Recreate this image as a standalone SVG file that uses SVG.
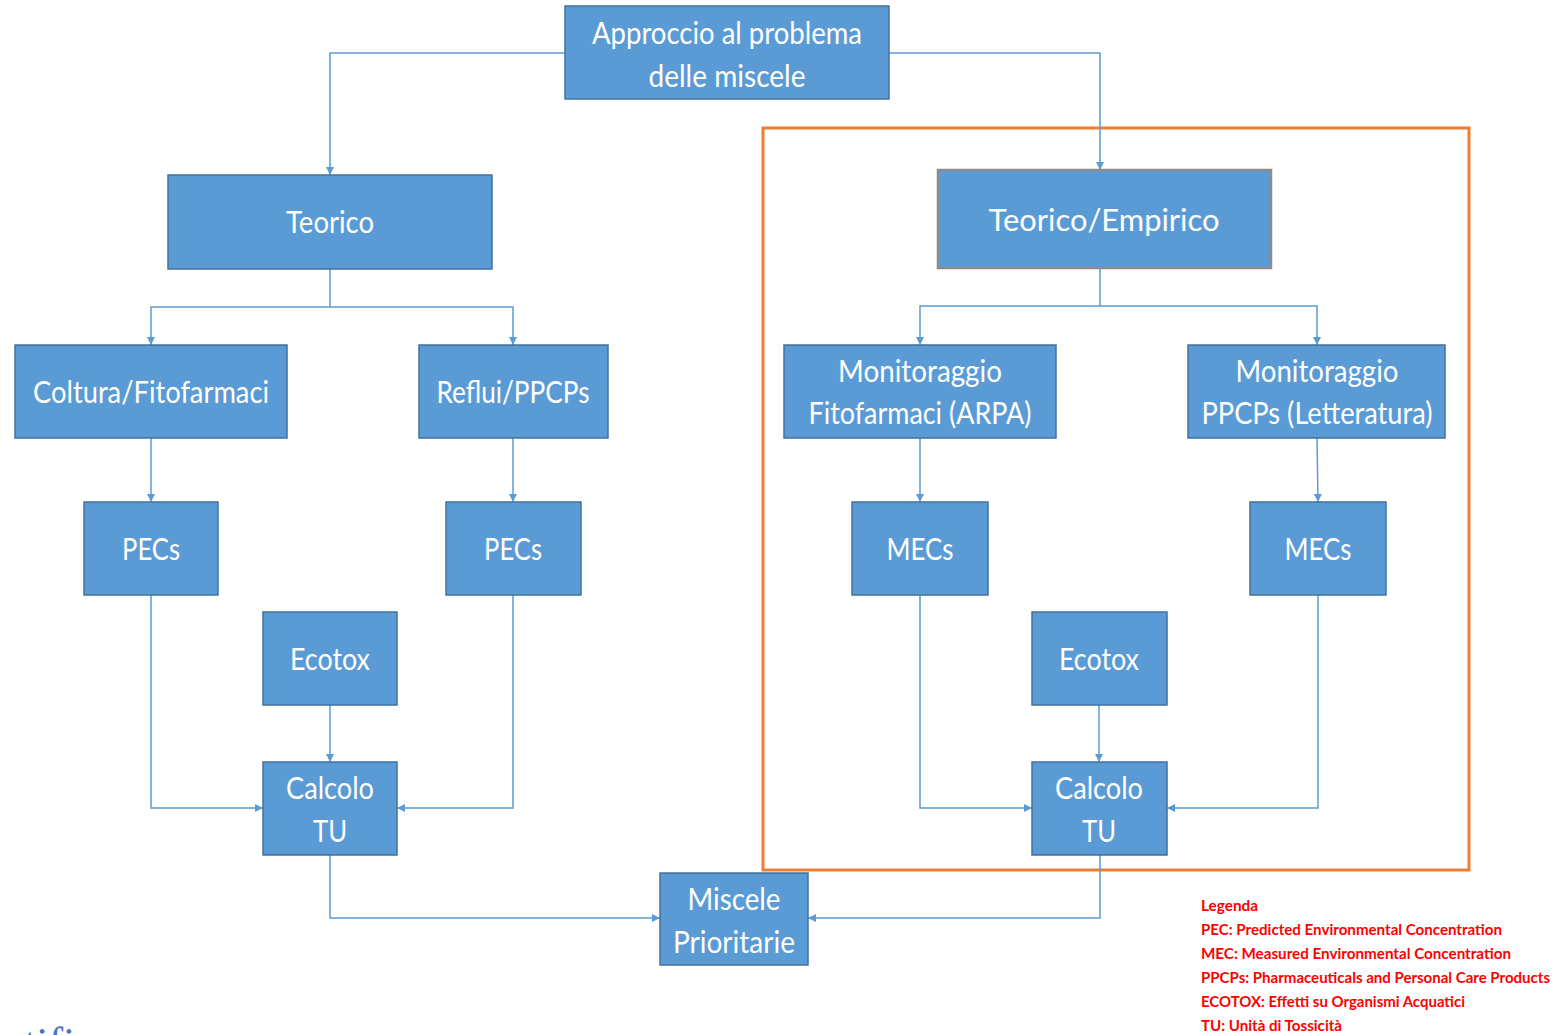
<svg xmlns="http://www.w3.org/2000/svg" width="1555" height="1035" viewBox="0 0 1555 1035">
<defs>
<marker id="ah" viewBox="0 0 10 10" refX="10" refY="5" markerWidth="8" markerHeight="8" markerUnits="userSpaceOnUse" orient="auto">
<path d="M0,0 L10,5 L0,10 z" fill="#5B9BD5"/>
</marker>
<style>
.box{fill:#5B9BD5;stroke:#41719C;stroke-width:1.5}
.t{font-family:Lato,"Liberation Sans",sans-serif;font-size:31px;fill:#fff;text-anchor:middle}
.c{fill:none;stroke:#5B9BD5;stroke-width:1.5;marker-end:url(#ah)}
.cn{fill:none;stroke:#5B9BD5;stroke-width:1.5}
.leg{font-family:Lato,"Liberation Sans",sans-serif;font-size:15px;font-weight:bold;fill:#FF0000}
</style>
</defs>
<rect width="1555" height="1035" fill="#fff"/>
<rect x="763" y="128" width="706" height="742" fill="none" stroke="#ED7D31" stroke-width="3"/>
<g id="connectors">
<path class="c" d="M565,53 H330 V175"/>
<path class="c" d="M889,53 H1100 V170"/>
<path class="cn" d="M330,269 V307"/>
<path class="c" d="M330,307 H151 V345"/>
<path class="c" d="M330,307 H513 V345"/>
<path class="cn" d="M1100,268 V306"/>
<path class="c" d="M1100,306 H920 V345"/>
<path class="c" d="M1100,306 H1317 V345"/>
<path class="c" d="M151,438 V502"/>
<path class="c" d="M513,438 V502"/>
<path class="c" d="M920,438 V502"/>
<path class="c" d="M1317,438 L1318,502"/>
<path class="c" d="M151,595 V808 H263"/>
<path class="c" d="M513,595 V808 H397"/>
<path class="c" d="M330,705 V762"/>
<path class="c" d="M920,595 V808 H1032"/>
<path class="c" d="M1318,595 V808 H1167"/>
<path class="c" d="M1099,705 V762"/>
<path class="c" d="M330,855 V918 H660"/>
<path class="c" d="M1100,855 V918 H808"/>
</g>
<g id="n-approccio"><rect class="box" x="565" y="6" width="324" height="93"/><text class="t" x="727" y="44" textLength="270" lengthAdjust="spacingAndGlyphs">Approccio al problema</text><text class="t" x="727" y="87" textLength="157" lengthAdjust="spacingAndGlyphs">delle miscele</text></g>
<g id="n-teorico"><rect class="box" x="168" y="175" width="324" height="94"/><text class="t" x="330" y="233" textLength="88" lengthAdjust="spacingAndGlyphs">Teorico</text></g>
<g id="n-empirico"><rect class="box" x="938" y="170" width="333" height="98" style="stroke:#8C8C8C;stroke-width:2.5"/><text class="t" x="1104" y="231" textLength="231" lengthAdjust="spacingAndGlyphs">Teorico/Empirico</text></g>
<g id="n-coltura"><rect class="box" x="15" y="345" width="272" height="93"/><text class="t" x="151" y="403" textLength="236" lengthAdjust="spacingAndGlyphs">Coltura/Fitofarmaci</text></g>
<g id="n-reflui"><rect class="box" x="419" y="345" width="189" height="93"/><text class="t" x="513" y="403" textLength="153" lengthAdjust="spacingAndGlyphs">Reflui/PPCPs</text></g>
<g id="n-mon-arpa"><rect class="box" x="784" y="345" width="272" height="93"/><text class="t" x="920" y="382" textLength="164" lengthAdjust="spacingAndGlyphs">Monitoraggio</text><text class="t" x="920" y="424" textLength="223" lengthAdjust="spacingAndGlyphs">Fitofarmaci (ARPA)</text></g>
<g id="n-mon-lett"><rect class="box" x="1188" y="345" width="257" height="93"/><text class="t" x="1317" y="382" textLength="163" lengthAdjust="spacingAndGlyphs">Monitoraggio</text><text class="t" x="1317" y="424" textLength="231" lengthAdjust="spacingAndGlyphs">PPCPs (Letteratura)</text></g>
<g id="n-pecs1"><rect class="box" x="84" y="502" width="134" height="93"/><text class="t" x="151" y="560" textLength="58" lengthAdjust="spacingAndGlyphs">PECs</text></g>
<g id="n-pecs2"><rect class="box" x="446" y="502" width="135" height="93"/><text class="t" x="513" y="560" textLength="58" lengthAdjust="spacingAndGlyphs">PECs</text></g>
<g id="n-mecs1"><rect class="box" x="852" y="502" width="136" height="93"/><text class="t" x="920" y="560" textLength="67" lengthAdjust="spacingAndGlyphs">MECs</text></g>
<g id="n-mecs2"><rect class="box" x="1250" y="502" width="136" height="93"/><text class="t" x="1318" y="560" textLength="67" lengthAdjust="spacingAndGlyphs">MECs</text></g>
<g id="n-ecotox1"><rect class="box" x="263" y="612" width="134" height="93"/><text class="t" x="330" y="670" textLength="80" lengthAdjust="spacingAndGlyphs">Ecotox</text></g>
<g id="n-ecotox2"><rect class="box" x="1032" y="612" width="135" height="93"/><text class="t" x="1099" y="670" textLength="80" lengthAdjust="spacingAndGlyphs">Ecotox</text></g>
<g id="n-tu1"><rect class="box" x="263" y="762" width="134" height="93"/><text class="t" x="330" y="799" textLength="88" lengthAdjust="spacingAndGlyphs">Calcolo</text><text class="t" x="330" y="842" textLength="34" lengthAdjust="spacingAndGlyphs">TU</text></g>
<g id="n-tu2"><rect class="box" x="1032" y="762" width="135" height="93"/><text class="t" x="1099" y="799" textLength="88" lengthAdjust="spacingAndGlyphs">Calcolo</text><text class="t" x="1099" y="842" textLength="34" lengthAdjust="spacingAndGlyphs">TU</text></g>
<g id="n-miscele"><rect class="box" x="660" y="873" width="148" height="92"/><text class="t" x="734" y="910" textLength="93" lengthAdjust="spacingAndGlyphs">Miscele</text><text class="t" x="734" y="953" textLength="122" lengthAdjust="spacingAndGlyphs">Prioritarie</text></g>
<g id="legend">
<text class="leg" x="1201" y="911" textLength="57" lengthAdjust="spacingAndGlyphs">Legenda</text>
<text class="leg" x="1201" y="935" textLength="301" lengthAdjust="spacingAndGlyphs">PEC: Predicted Environmental Concentration</text>
<text class="leg" x="1201" y="959" textLength="310" lengthAdjust="spacingAndGlyphs">MEC: Measured Environmental Concentration</text>
<text class="leg" x="1201" y="983" textLength="349" lengthAdjust="spacingAndGlyphs">PPCPs: Pharmaceuticals and Personal Care Products</text>
<text class="leg" x="1201" y="1007" textLength="264" lengthAdjust="spacingAndGlyphs">ECOTOX: Effetti su Organismi Acquatici</text>
<text class="leg" x="1201" y="1031" textLength="141" lengthAdjust="spacingAndGlyphs">TU: Unità di Tossicità</text>
</g>
<text x="24" y="1058" style="font-family:'Liberation Serif',serif;font-size:44px;fill:#4472C4">tifi</text>
</svg>
